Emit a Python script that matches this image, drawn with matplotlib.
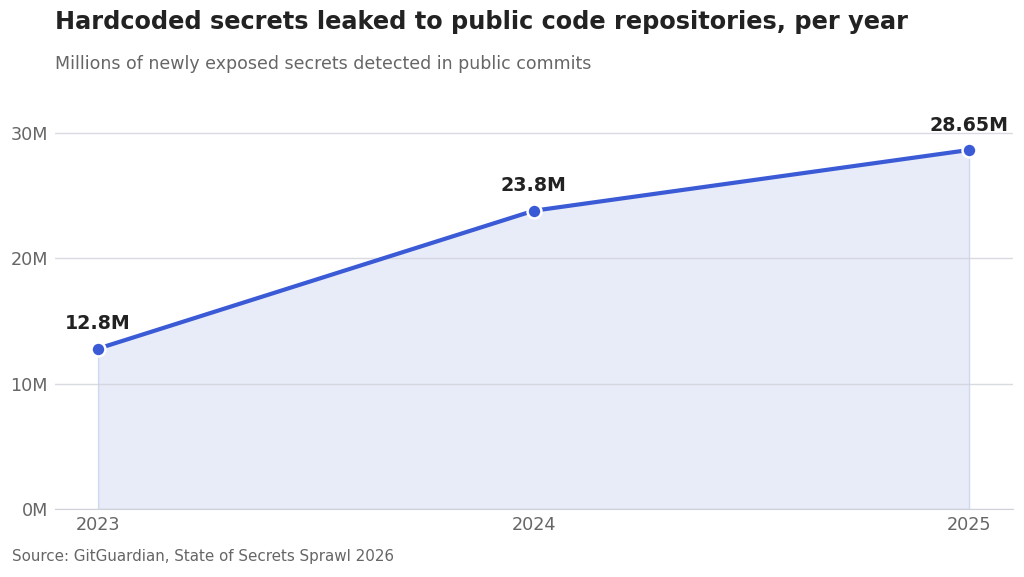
import matplotlib
matplotlib.use("Agg")
import matplotlib.pyplot as plt
from matplotlib.ticker import FuncFormatter

plt.rcParams["font.family"] = ["DejaVu Sans"]

years = [2023, 2024, 2025]
secrets_m = [12.8, 23.8, 28.65]
value_labels = ["12.8M", "23.8M", "28.65M"]
y_ticks = [0, 10, 20, 30]

W, H = 1024, 577
fig = plt.figure(figsize=(W / 100, H / 100), dpi=100)
ax = fig.add_axes([55 / W, (H - 509) / H, (1013 - 55) / W, (509 - 108) / H])

line_color = "#3b5bd6"
ax.fill_between(years, secrets_m, 0, color="#e8ecf8", edgecolor="#d0d8f0", linewidth=1, zorder=1)
ax.plot(years, secrets_m, color=line_color, linewidth=3, zorder=3,
        marker="o", markersize=10, markerfacecolor=line_color,
        markeredgecolor="white", markeredgewidth=1.8)

for x, y, lab in zip(years, secrets_m, value_labels):
    ax.annotate(lab, (x, y), xytext=(0, 11), textcoords="offset points",
                ha="center", va="bottom", fontsize=13.7, fontweight="bold",
                color="#222222", zorder=4)

ax.set_xlim(2023 - 0.099, 2025 + 0.101)
ax.set_ylim(0, 32)
ax.set_yticks(y_ticks)
ax.yaxis.set_major_formatter(FuncFormatter(lambda v, p: f"{int(v)}M"))
ax.set_xticks(years)
ax.set_xticklabels([str(y) for y in years])
ax.grid(axis="y", color="#cfd2d9", linewidth=1, zorder=2, alpha=0.8)
ax.set_axisbelow(False)
for s in ["top", "right", "left"]:
    ax.spines[s].set_visible(False)
ax.spines["bottom"].set_color("#cfd2d9")
ax.tick_params(axis="both", length=0, labelsize=12.7, labelcolor="#666666")
ax.tick_params(axis="y", pad=5)
ax.tick_params(axis="x", pad=5)

fig.text(55 / W, 1 - 22 / H, "Hardcoded secrets leaked to public code repositories, per year",
         fontsize=17.3, fontweight="bold", color="#222222", ha="left", va="center")
fig.text(55 / W, 1 - 64 / H, "Millions of newly exposed secrets detected in public commits",
         fontsize=12.5, color="#666666", ha="left", va="center")
fig.text(12 / W, 1 - 557 / H, "Source: GitGuardian, State of Secrets Sprawl 2026",
         fontsize=10.9, color="#666666", ha="left", va="center")

fig.savefig("out.png", dpi=100, facecolor="white")
